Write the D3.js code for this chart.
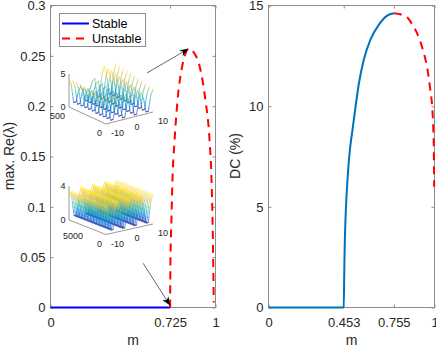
<!DOCTYPE html>
<html>
<head>
<meta charset="utf-8">
<script src="https://cdn.jsdelivr.net/npm/d3@7"></script>
<style>
  body { margin: 0; background: #fff; }
  svg { display: block; font-family: "Liberation Sans", Arial, Helvetica, sans-serif; }
</style>
</head>
<body>
<svg id="chart" width="436" height="348"></svg>
<script>
// ---- data ----
const leftXTicks = [0, 0.725, 1];
const leftYTicks = [0, 0.05, 0.1, 0.15, 0.2, 0.25, 0.3];
const rightXTicks = [0, 0.453, 0.755, 1];
const rightYTicks = [0, 5, 10, 15];

// left panel: max. Re(lambda) vs m
const stableLeftM = [0, 0.725];
const stableLeftV = [0, 0];
const unstableLeftM = [0.725, 0.727, 0.733, 0.739, 0.752, 0.770, 0.794, 0.812, 0.836, 0.870, 0.909, 0.939, 0.964, 0.976, 0.982, 0.986, 0.988, 0.989];
const unstableLeftV = [0, 0.047, 0.087, 0.126, 0.166, 0.206, 0.236, 0.249, 0.257, 0.253, 0.236, 0.206, 0.166, 0.126, 0.087, 0.047, 0.020, 0.005];

// right panel: DC (%) vs m
const stableRightM = [0, 0.453, 0.456, 0.459, 0.463, 0.468, 0.478, 0.490, 0.504, 0.524, 0.544, 0.574, 0.614, 0.665, 0.715, 0.755];
const stableRightV = [0, 0, 1.5, 3.0, 4.2, 5.2, 6.6, 7.8, 8.7, 9.95, 11.1, 12.3, 13.3, 14.05, 14.5, 14.62];
const unstableRightM = [0.755, 0.800, 0.835, 0.870, 0.896, 0.930, 0.956, 0.975, 0.986, 0.993, 0.996, 0.998];
const unstableRightV = [14.62, 14.55, 14.42, 14.0, 13.6, 12.8, 11.9, 10.8, 9.95, 8.8, 7.8, 6.0];

// arrows (tail -> tip, in m / max. Re units)
const arrowTails = [[0.585, 0.233], [0.561, 0.044]];
const arrowTips = [[0.836, 0.257], [0.725, 0.002]];

// insets: space grid and profiles
const insetX = [-10, -9, -8, -7, -6, -5, -4, -3, -2, -1, 0, 1, 2, 3, 4, 5, 6, 7, 8, 9, 10];
const insetXTicks = [-10, 0, 10];

const inset1T = [0, 50, 100, 150, 200, 250, 300, 350, 400, 450, 500];
const inset1Z = [
  [3.6, 2.5, 0.4, 0.4, 2.4, 3.4, 2.4, 0.3, 0.3, 2.4, 3.3, 2.4, 0.3, 0.3, 2.4, 3.4, 2.4, 0.3, 0.3, 2.5, 3.5],
  [3.7, 2.6, 0.4, 0.4, 2.4, 3.4, 2.3, 0.3, 0.3, 2.3, 3.2, 2.4, 0.3, 0.3, 2.5, 3.5, 2.5, 0.3, 0.3, 2.6, 3.6],
  [3.8, 2.7, 0.4, 0.4, 2.4, 3.3, 2.3, 0.3, 0.3, 2.2, 3.1, 2.5, 0.3, 0.3, 2.6, 3.7, 2.6, 0.3, 0.3, 2.7, 3.7],
  [3.9, 2.8, 0.4, 0.4, 2.3, 3.2, 2.2, 0.3, 0.3, 2.1, 3.0, 2.5, 0.3, 0.3, 2.7, 3.8, 2.7, 0.3, 0.3, 2.8, 3.9],
  [4.0, 2.9, 0.4, 0.4, 2.3, 3.1, 2.1, 0.3, 0.3, 2.0, 2.9, 2.6, 0.3, 0.3, 2.8, 4.0, 2.8, 0.4, 0.4, 2.9, 4.0],
  [4.1, 3.0, 0.5, 0.5, 2.2, 3.0, 2.0, 0.3, 0.3, 1.9, 2.8, 2.7, 0.3, 0.3, 2.9, 4.1, 3.0, 0.4, 0.4, 3.0, 4.2],
  [4.1, 3.0, 0.5, 0.5, 2.2, 2.9, 1.9, 0.3, 0.3, 1.8, 2.7, 2.8, 0.4, 0.4, 3.1, 4.3, 3.1, 0.4, 0.4, 3.1, 4.3],
  [4.2, 3.1, 0.5, 0.5, 2.1, 2.8, 1.9, 0.3, 0.3, 1.8, 2.7, 2.9, 0.4, 0.4, 3.2, 4.4, 3.2, 0.4, 0.4, 3.2, 4.4],
  [4.2, 3.1, 0.5, 0.5, 2.1, 2.8, 1.8, 0.3, 0.3, 1.9, 2.8, 3.0, 0.4, 0.4, 3.3, 4.6, 3.3, 0.4, 0.4, 3.3, 4.6],
  [4.3, 3.2, 0.5, 0.5, 2.0, 2.7, 1.8, 0.3, 0.3, 1.9, 2.9, 3.2, 0.4, 0.4, 3.4, 4.7, 3.4, 0.4, 0.4, 3.4, 4.7],
  [4.3, 3.2, 0.5, 0.5, 2.0, 2.7, 1.9, 0.3, 0.3, 2.0, 3.0, 3.3, 0.4, 0.4, 3.5, 4.8, 3.5, 0.4, 0.4, 3.5, 4.8]
];
const inset1ZTicks = [0, 5];
const inset1TTicks = [0, 500];

const inset2T = [0, 400, 800, 1200, 1600, 2000, 2400, 2800, 3200, 3600, 4000, 4400, 4800,
                 5200, 5600, 6000, 6400, 6800, 7200, 7600, 8000, 8400, 8800, 9200, 9600];
const inset2Profile = [3.5, 2.6, 0.4, 0.4, 2.6, 3.6, 2.6, 0.3, 0.3, 2.6, 3.6, 2.6, 0.3, 0.3, 2.6, 3.6, 2.6, 0.3, 0.3, 2.6, 3.5];
const inset2ZTicks = [0, 4];
const inset2TTicks = [0, 5000];

// ---- drawing ----
const axisColor = "#8c8c8c";
const textColor = "#262626";
const parula = ["#352a87", "#0363e1", "#1485d4", "#06a7c6", "#38b99e", "#92bf73", "#d9ba56", "#fcce2e", "#f9fb0e"];

const svg = d3.select("#chart");

const xLeft = d3.scaleLinear().domain([0, 1]).range([50.5, 215.5]);
const yLeft = d3.scaleLinear().domain([0, 0.3]).range([307.5, 5.5]);
const xRight = d3.scaleLinear().domain([0, 1]).range([268.5, 434.5]);
const yRight = d3.scaleLinear().domain([0, 15]).range([307.5, 5.5]);

function drawAxes(x, y, xTicks, yTicks) {
  const g = svg.append("g");
  const [x0, x1] = x.range();
  const [y1, y0] = y.range();

  g.append("g").attr("transform", `translate(0,${y1})`)
    .call(d3.axisBottom(x).tickValues(xTicks).tickSize(-3).tickPadding(10).tickFormat(d => String(d)));
  g.append("g").attr("transform", `translate(0,${y0})`)
    .call(d3.axisTop(x).tickValues(xTicks).tickSize(-3).tickFormat(""));
  g.append("g").attr("transform", `translate(${x0},0)`)
    .call(d3.axisLeft(y).tickValues(yTicks).tickSize(-3).tickPadding(5).tickFormat(d => String(d)));
  g.append("g").attr("transform", `translate(${x1},0)`)
    .call(d3.axisRight(y).tickValues(yTicks).tickSize(-3).tickFormat(""));

  g.selectAll(".domain").remove();
  g.selectAll(".tick line").attr("stroke", axisColor);
  g.selectAll(".tick text").attr("fill", textColor).attr("font-size", 13)
    .attr("font-family", '"Liberation Sans", Arial, Helvetica, sans-serif');

  g.append("rect")
    .attr("x", x0).attr("y", y0)
    .attr("width", x1 - x0).attr("height", y1 - y0)
    .attr("fill", "none").attr("stroke", axisColor);
}

function drawCurve(x, y, ms, vs, color, dashed) {
  const line = d3.line()
    .x(d => x(d[0]))
    .y(d => y(d[1]))
    .curve(d3.curveMonotoneX);
  svg.append("path")
    .datum(d3.zip(ms, vs))
    .attr("d", line)
    .attr("fill", "none")
    .attr("stroke", color)
    .attr("stroke-width", 2)
    .attr("stroke-dasharray", dashed ? "8,6" : null);
}

drawAxes(xLeft, yLeft, leftXTicks, leftYTicks);
drawAxes(xRight, yRight, rightXTicks, rightYTicks);

// inset 3D waterfall plots
function drawInset(cfg) {
  const g = svg.append("g");
  const sx = d3.scaleLinear().domain([-10, 10]).range([0, 1]);
  const st = d3.scaleLinear().domain([0, cfg.tMax]).range([0, 1]);
  const sz = d3.scaleLinear().domain([0, cfg.zTop]).range([0, -cfg.zPx]);
  const A = cfg.A, B = cfg.B, C = cfg.C;
  const proj = (x, t, z) => [
    B[0] + sx(x) * (C[0] - B[0]) + st(t) * (A[0] - B[0]),
    B[1] + sx(x) * (C[1] - B[1]) + st(t) * (A[1] - B[1]) + sz(z)
  ];

  const allZ = cfg.rows.flatMap(r => r.z);
  const [zMin, zMax] = d3.extent(allZ);
  const color = d3.scaleLinear()
    .domain(parula.map((c, i) => zMin + (zMax - zMin) * i / (parula.length - 1)))
    .range(parula)
    .interpolate(d3.interpolateRgb);

  // axes lines
  const axLine = (p, q) => g.append("line")
    .attr("x1", p[0]).attr("y1", p[1]).attr("x2", q[0]).attr("y2", q[1])
    .attr("stroke", "#555").attr("stroke-width", 0.6);
  axLine(proj(-10, 0, 0), proj(-10, cfg.tMax, 0));
  axLine(proj(-10, 0, 0), proj(10, 0, 0));
  axLine(proj(-10, cfg.tMax, 0), proj(-10, cfg.tMax, cfg.zTop));

  // rows from back to front; each grid segment is stroked in a few
  // pieces so the colour follows the height like MATLAB's interp shading
  const pieces = 4;
  const rows = cfg.rows.slice().sort((a, b) => b.t - a.t);
  rows.forEach(row => {
    for (let j = 0; j < insetX.length - 1; j++) {
      const p = proj(insetX[j], row.t, row.z[j]);
      const q = proj(insetX[j + 1], row.t, row.z[j + 1]);
      for (let k = 0; k < pieces; k++) {
        const a = k / pieces, b = (k + 1) / pieces, m = (a + b) / 2;
        g.append("line")
          .attr("x1", p[0] + (q[0] - p[0]) * a).attr("y1", p[1] + (q[1] - p[1]) * a)
          .attr("x2", p[0] + (q[0] - p[0]) * b).attr("y2", p[1] + (q[1] - p[1]) * b)
          .attr("stroke", color(row.z[j] + (row.z[j + 1] - row.z[j]) * m))
          .attr("stroke-width", 0.6)
          .attr("stroke-linecap", "round");
      }
    }
  });

  const label = (p, dx, dy, txt, anchor) => g.append("text")
    .attr("x", p[0] + dx).attr("y", p[1] + dy).attr("dy", "0.35em")
    .attr("text-anchor", anchor)
    .attr("font-size", 9).attr("fill", textColor)
    .text(txt);
  cfg.zTicks.forEach(z => label(proj(-10, cfg.tMax, z), -3.5, 0, z, "end"));
  cfg.tTicks.forEach(t => label(proj(-10, t, 0), -4, 9, t, "end"));
  insetXTicks.forEach(x => label(proj(x, 0, 0), 5, 9, x, "start"));
}

drawInset({
  A: [69, 107], B: [106, 124], C: [153, 112],
  tMax: 500, zTop: 5, zPx: 33,
  rows: inset1T.map((t, i) => ({ t: t, z: inset1Z[i] })),
  zTicks: inset1ZTicks, tTicks: inset1TTicks
});

drawInset({
  A: [69, 220], B: [106, 234.5], C: [153, 224],
  tMax: 9700, zTop: 4, zPx: 34,
  rows: inset2T.map(t => ({ t: t, z: inset2Profile })),
  zTicks: inset2ZTicks, tTicks: inset2TTicks
});

// curves
drawCurve(xLeft, yLeft, stableLeftM, stableLeftV, "#0000ff", false);
drawCurve(xLeft, yLeft, unstableLeftM, unstableLeftV, "#ff0000", true);
drawCurve(xRight, yRight, stableRightM, stableRightV, "#0072bd", false);
drawCurve(xRight, yRight, unstableRightM, unstableRightV, "#ff0000", true);

// arrows
svg.append("defs").append("marker")
  .attr("id", "head")
  .attr("viewBox", "0 0 10 8")
  .attr("refX", 10).attr("refY", 4)
  .attr("markerWidth", 9).attr("markerHeight", 7)
  .attr("markerUnits", "userSpaceOnUse")
  .attr("orient", "auto")
  .append("path")
  .attr("d", "M0,0 L10,4 L0,8 L3,4 Z")
  .attr("fill", "#000");

arrowTails.forEach((tail, i) => {
  const tip = arrowTips[i];
  svg.append("line")
    .attr("x1", xLeft(tail[0])).attr("y1", yLeft(tail[1]))
    .attr("x2", xLeft(tip[0])).attr("y2", yLeft(tip[1]))
    .attr("stroke", "#000").attr("stroke-width", 0.6)
    .attr("marker-end", "url(#head)");
});

// legend
const legend = svg.append("g");
legend.append("rect")
  .attr("x", 59.5).attr("y", 13.5).attr("width", 86).attr("height", 33)
  .attr("fill", "#fff").attr("stroke", axisColor);
[["Stable", "#0000ff", null], ["Unstable", "#ff0000", "8,6"]].forEach((d, i) => {
  const yy = 23.5 + i * 15;
  legend.append("line")
    .attr("x1", 62).attr("x2", 89).attr("y1", yy).attr("y2", yy)
    .attr("stroke", d[1]).attr("stroke-width", 2)
    .attr("stroke-dasharray", d[2]);
  legend.append("text")
    .attr("x", 92).attr("y", yy).attr("dy", "0.35em")
    .attr("font-size", 12.5).attr("fill", "#000")
    .text(d[0]);
});

// axis labels
svg.append("text")
  .attr("x", (xLeft.range()[0] + xLeft.range()[1]) / 2).attr("y", 345)
  .attr("text-anchor", "middle").attr("font-size", 14).attr("fill", textColor)
  .text("m");
svg.append("text")
  .attr("x", (xRight.range()[0] + xRight.range()[1]) / 2).attr("y", 345)
  .attr("text-anchor", "middle").attr("font-size", 14).attr("fill", textColor)
  .text("m");
svg.append("text")
  .attr("transform", "translate(14,156) rotate(-90)")
  .attr("text-anchor", "middle").attr("font-size", 14).attr("fill", textColor)
  .text("max. Re(λ)");
svg.append("text")
  .attr("transform", "translate(240,156) rotate(-90)")
  .attr("text-anchor", "middle").attr("font-size", 14).attr("fill", textColor)
  .text("DC (%)");
</script>
</body>
</html>
